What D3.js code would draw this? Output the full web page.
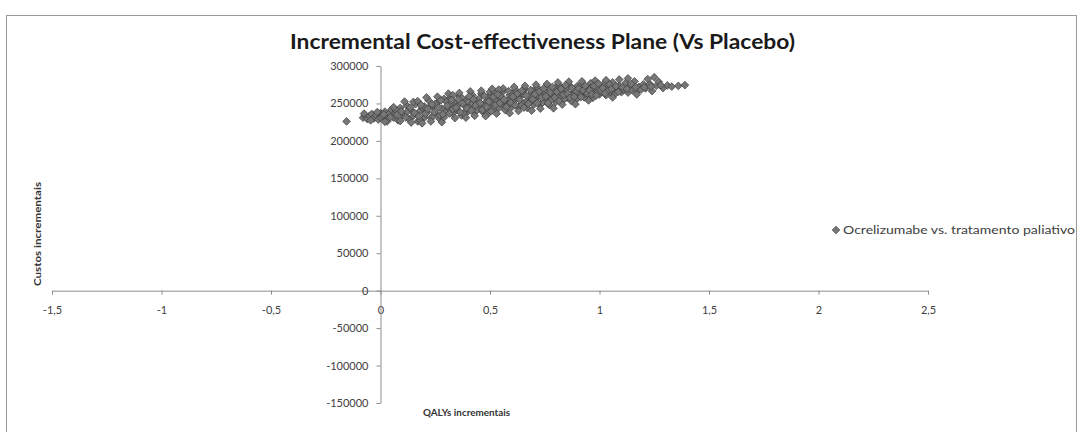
<!DOCTYPE html>
<html>
<head>
<meta charset="utf-8">
<script src="https://cdn.jsdelivr.net/npm/d3@7"></script>
<style>
  html, body { margin: 0; padding: 0; background: #fff; }
  svg { display: block; }
  text { font-family: Lato, "Liberation Sans", sans-serif; }
</style>
</head>
<body>
<svg id="chart" width="1080" height="432"></svg>
<script>
const chartTitle = "Incremental Cost-effectiveness Plane (Vs Placebo)";
const xAxisTitle = "QALYs incrementais";
const yAxisTitle = "Custos incrementais";
const seriesName = "Ocrelizumabe vs. tratamento paliativo";
const xTicks = [-1.5, -1, -0.5, 0, 0.5, 1, 1.5, 2, 2.5];
const yTicks = [-150000, -100000, -50000, 0, 50000, 100000, 150000, 200000, 250000, 300000];

// incremental QALYs (x) and incremental costs (y)
const pointsNegative = [
  [-0.155,226000],[-0.08,231000],[-0.07,234000],[-0.06,229000],[-0.05,233500],[-0.04,236000],
  [-0.03,230000],[-0.02,234500],[-0.01,228500],[0.0,237000],[0.0,231500],[-0.075,236500],[-0.045,227500],[-0.015,238500]
];
const pointsLow = [
  [0.01,233000],[0.02,239000],[0.03,229000],[0.04,236500],[0.05,242000],[0.06,231000],[0.07,238000],
  [0.08,227500],[0.09,244000],[0.1,234500],[0.03,226000],[0.07,241500],[0.02,225500],[0.06,245000],[0.09,226500],
  [0.11,236000],[0.12,247000],[0.13,229000],[0.14,241000],[0.15,233500],[0.16,249000],[0.17,226000],
  [0.18,240000],[0.19,244500],[0.2,231000],[0.12,238500],[0.15,252000],[0.18,228000],[0.2,246000],
  [0.11,252500],[0.14,224500],[0.17,253000],[0.19,223500],
  [0.21,238000],[0.22,254000],[0.23,231000],[0.24,246500],[0.25,236000],[0.26,251000],[0.27,229500],
  [0.28,243000],[0.29,256000],[0.3,239000],[0.22,244000],[0.25,249500],[0.27,234000],[0.3,252500],[0.24,232500],
  [0.21,258000],[0.23,226000],[0.26,259000],[0.28,225000],[0.29,231500]
];
const pointsMid = [
  [0.31,244000],[0.32,258000],[0.33,236500],[0.34,251000],[0.35,241000],[0.36,260000],[0.37,234000],
  [0.38,248500],[0.39,255000],[0.4,239500],[0.32,250000],[0.35,246000],[0.37,257500],[0.4,252000],
  [0.33,242500],[0.38,237000],[0.31,263000],[0.34,230500],[0.36,264000],[0.39,231000],[0.33,261000],
  [0.41,246000],[0.42,261000],[0.43,239000],[0.44,254000],[0.45,243500],[0.46,263000],[0.47,238000],
  [0.48,251500],[0.49,258000],[0.5,244500],[0.42,249500],[0.45,256500],[0.47,247000],[0.5,260500],
  [0.44,241000],[0.49,236500],[0.41,266000],[0.43,233500],[0.46,267000],[0.48,233000],[0.5,265500],
  [0.51,251000],[0.52,264000],[0.53,242000],[0.54,257000],[0.55,247000],[0.56,266000],[0.57,241000],
  [0.58,254500],[0.59,261000],[0.6,245500],[0.52,255000],[0.55,259500],[0.57,250000],[0.6,263500],
  [0.54,244000],[0.58,248000],[0.51,269500],[0.53,236500],[0.56,270000],[0.59,237000],[0.54,268500],
  [0.61,253000],[0.62,267000],[0.63,245000],[0.64,260000],[0.65,250000],[0.66,269000],[0.67,244000],
  [0.68,257000],[0.69,264000],[0.7,248500],[0.62,258500],[0.65,262500],[0.67,253500],[0.7,267500],
  [0.64,247500],[0.68,251000],[0.61,272000],[0.63,240000],[0.66,273500],[0.69,240500]
];
const pointsHigh = [
  [0.71,256000],[0.72,270000],[0.73,249000],[0.74,263000],[0.75,253500],[0.76,272000],[0.77,248000],
  [0.78,260000],[0.79,267000],[0.8,252000],[0.72,261500],[0.75,266000],[0.77,257000],[0.8,271000],
  [0.74,251000],[0.78,254500],[0.71,275000],[0.73,243000],[0.76,276000],[0.79,243500],
  [0.81,260000],[0.82,273000],[0.83,254000],[0.84,267000],[0.85,258000],[0.86,275000],[0.87,253500],
  [0.88,264500],[0.89,270000],[0.9,257000],[0.82,265500],[0.85,269500],[0.87,261000],[0.9,273500],
  [0.84,256000],[0.81,278000],[0.83,248500],[0.86,279000],[0.89,249000],
  [0.91,263000],[0.92,275000],[0.93,258000],[0.94,269500],[0.95,261000],[0.96,277000],[0.97,257500],
  [0.98,267000],[0.99,272500],[1.0,262000],[0.93,266000],[0.96,270500],[0.99,264500],
  [0.92,279500],[0.95,254000],[0.98,280500],
  [1.01,266000],[1.02,276000],[1.03,261000],[1.04,271000],[1.05,264500],[1.06,278000],[1.07,262500],
  [1.08,269500],[1.09,274000],[1.1,265000],[1.04,267500],[1.03,281000],[1.06,258000],[1.09,282000],
  [1.11,268000],[1.12,277500],[1.13,264500],[1.14,273000],[1.15,267500],[1.16,279500],[1.17,266000],
  [1.18,272000],[1.2,275500],[1.13,283500],[1.17,262000],
  [1.21,270000],[1.23,276000],[1.24,266500],[1.26,273500],[1.27,279000],[1.29,270500],[1.22,282500],[1.25,285000],
  [1.31,274000],[1.33,272500],[1.36,273500],[1.39,274500]
];
// densest core of the cloud
const pointsCore = [
  [0.015,235500],[0.045,231500],[0.075,235000],[0.095,239500],[0.115,231500],[0.135,244500],[0.155,237500],
  [0.175,233000],[0.185,248000],[0.205,236500],[0.215,242500],[0.235,249000],[0.245,238500],[0.265,244500],
  [0.275,254000],[0.285,235500],[0.305,247000],[0.315,236500],[0.325,254500],[0.345,244500],[0.355,255500],
  [0.365,238500],[0.375,250000],[0.395,243500],[0.405,259500],[0.415,240500],[0.425,255500],[0.435,247500],
  [0.455,250500],[0.465,241500],[0.475,260000],[0.485,245500],[0.495,252500],[0.505,239500],[0.515,258500],
  [0.525,248000],[0.535,262000],[0.545,250500],[0.565,255000],[0.575,245500],[0.585,266500],[0.595,251000],
  [0.605,259000],[0.615,247500],[0.625,263000],[0.635,255000],[0.645,267000],[0.655,244500],[0.665,260500],
  [0.675,249500],[0.685,268000],[0.695,255500],[0.705,262500],[0.715,250500],[0.725,266000],[0.735,257500],
  [0.745,270000],[0.755,259500],[0.765,250500],[0.775,264500],[0.785,272000],[0.795,258000],[0.805,265500],
  [0.815,253500],[0.825,269500],[0.835,261500],[0.845,274500],[0.855,263500],[0.865,257500],[0.875,270500],
  [0.885,259000],[0.895,266500],[0.905,270000],[0.915,258500],[0.925,267500],[0.935,273500],[0.945,263500],
  [0.955,267500],[0.965,262000],[0.975,273500],[0.985,260500],[0.995,276500],[1.015,270500],[1.025,263500],
  [1.045,275500],[1.055,269500],[1.075,273000],[1.085,265500],[1.105,271500],[1.125,269500],[1.145,276000],
  [1.165,271500],[1.19,268500],[1.205,271500],[1.235,272500],[1.28,274500]
];
const points = [].concat(pointsNegative, pointsLow, pointsMid, pointsHigh, pointsCore);

const svg = d3.select("#chart");

// outer chart border
svg.append("rect")
  .attr("x", 6.5).attr("y", 15.5)
  .attr("width", 1070).attr("height", 440)
  .attr("fill", "none").attr("stroke", "#9a9a9a").attr("stroke-width", 1);

const x = d3.scaleLinear().domain([-1.5, 2.5]).range([52, 928]);
const y = d3.scaleLinear().domain([-150000, 300000]).range([403, 66]);

const fmtX = d => String(d).replace(".", ",");
const fmtY = d => String(d);

// x axis at y = 0
const gx = svg.append("g")
  .attr("transform", `translate(0,${y(0)})`)
  .call(d3.axisBottom(x).tickValues(xTicks).tickFormat(fmtX).tickSize(4).tickSizeOuter(0));
// y axis at x = 0
const gy = svg.append("g")
  .attr("transform", `translate(${x(0)},0)`)
  .call(d3.axisLeft(y).tickValues(yTicks).tickFormat(fmtY).tickSize(4).tickSizeOuter(0));

[gx, gy].forEach(g => {
  g.select(".domain").attr("stroke", "#8c8c8c");
  g.selectAll(".tick line").attr("stroke", "#8c8c8c");
  g.selectAll(".tick text")
    .attr("fill", "#404040")
    .style("font-size", "11px")
    .style("font-family", "Lato, sans-serif");
});
gx.selectAll(".tick text").attr("dy", "1.45em");
gy.selectAll(".tick text").attr("x", -12);

// points
const diamond = d3.symbol().type(d3.symbolSquare).size(30);
svg.append("g").selectAll("path")
  .data(points)
  .join("path")
  .attr("d", diamond)
  .attr("transform", d => `translate(${x(d[0])},${y(d[1])}) rotate(45)`)
  .attr("fill", "#777777")
  .attr("stroke", "#333333")
  .attr("stroke-width", 0.6);

// title
svg.append("text")
  .attr("x", 290).attr("y", 49)
  .attr("textLength", 505).attr("lengthAdjust", "spacingAndGlyphs")
  .style("font-size", "20px").style("font-weight", "bold")
  .attr("fill", "#1a1a1a")
  .text(chartTitle);

// axis titles
svg.append("text")
  .attr("x", 423).attr("y", 416)
  .attr("textLength", 87).attr("lengthAdjust", "spacingAndGlyphs")
  .style("font-size", "10px").style("font-weight", "bold")
  .attr("fill", "#333")
  .text(xAxisTitle);

svg.append("text")
  .attr("transform", "translate(41,234) rotate(-90)")
  .attr("text-anchor", "middle")
  .attr("textLength", 104).attr("lengthAdjust", "spacingAndGlyphs")
  .style("font-size", "10px").style("font-weight", "bold")
  .attr("fill", "#333")
  .text(yAxisTitle);

// legend
svg.append("path")
  .attr("d", diamond)
  .attr("transform", "translate(836,230) rotate(45)")
  .attr("fill", "#777777").attr("stroke", "#333333").attr("stroke-width", 0.6);
svg.append("text")
  .attr("x", 843).attr("y", 234)
  .attr("textLength", 232).attr("lengthAdjust", "spacingAndGlyphs")
  .style("font-size", "11px")
  .attr("fill", "#404040")
  .text(seriesName);
</script>
</body>
</html>
